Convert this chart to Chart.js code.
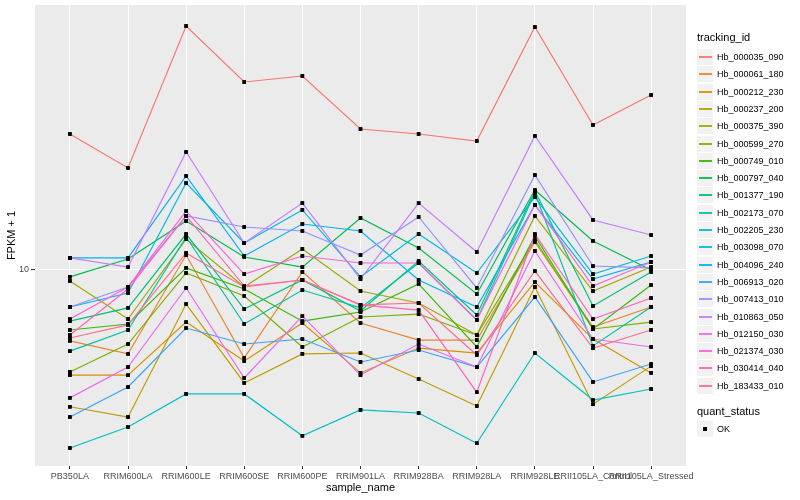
<!DOCTYPE html>
<html>
<head>
<meta charset="utf-8">
<script src="https://cdn.jsdelivr.net/npm/chart.js@4.4.1/dist/chart.umd.min.js"></script>
<style>
  html, body { margin: 0; padding: 0; background: #fff; }
  #wrap { position: relative; width: 800px; height: 500px; font-family: "Liberation Sans", Arial, sans-serif; }
  #chart { position: absolute; left: 0; top: 0; }
  .lg-title { position: absolute; left: 697px; font-size: 11px; color: #000; line-height: 13px; }
  .lg-row { position: absolute; left: 697px; height: 17px; width: 100px; }
  .lg-key { position: absolute; left: 0; top: 0; width: 16px; height: 16px; background: #F2F2F2; }
  .lg-line { position: absolute; left: 2px; top: 7px; width: 13px; height: 2px; opacity: 0.9; }
  .lg-dot { position: absolute; left: 6px; top: 6px; width: 4px; height: 4px; background: #000; }
  .lg-text { position: absolute; left: 20px; top: 2px; font-size: 9px; line-height: 12px; color: #000; white-space: nowrap; }
</style>
</head>
<body>
<div id="wrap">
  <canvas id="chart" width="800" height="500"></canvas>
  <div id="legend"></div>
</div>
<script>
const samples = ['PB350LA', 'RRIM600LA', 'RRIM600LE', 'RRIM600SE', 'RRIM600PE', 'RRIM901LA',
                 'RRIM928BA', 'RRIM928LA', 'RRIM928LE', 'RRII105LA_Control', 'RRII105LA_Stressed'];

const trackingIds = ['Hb_000035_090', 'Hb_000061_180', 'Hb_000212_230', 'Hb_000237_200', 'Hb_000375_390',
                     'Hb_000599_270', 'Hb_000749_010', 'Hb_000797_040', 'Hb_001377_190', 'Hb_002173_070',
                     'Hb_002205_230', 'Hb_003098_070', 'Hb_004096_240', 'Hb_006913_020', 'Hb_007413_010',
                     'Hb_010863_050', 'Hb_012150_030', 'Hb_021374_030', 'Hb_030414_040', 'Hb_183433_010'];

const colors = ['#F8766D', '#EA8331', '#D89000', '#C09B00', '#A3A500', '#7CAE00', '#39B600', '#00BB4E',
                '#00BF7D', '#00C1A3', '#00BFC4', '#00BAE0', '#00B0F6', '#35A2FF', '#9590FF', '#C77CFF',
                '#E76BF3', '#FA62DB', '#FF62BC', '#FF6C91'];

// FPKM + 1 per sample, one array per tracking_id
const hb_000035_090 = [21.88, 17.99, 40.74, 29.51, 30.55, 22.51, 21.88, 21.01, 40.50, 23.04, 27.38];
const hb_000061_180 = [6.65, 6.17, 10.90, 6.03, 9.89, 7.37, 6.68, 6.68, 11.75, 7.20, 8.08];
const hb_000212_230 = [5.46, 5.46, 7.41, 5.92, 7.37, 5.53, 6.38, 6.20, 9.33, 6.72, 5.53];
const hb_000237_200 = [4.55, 4.29, 8.22, 5.22, 6.17, 6.20, 5.34, 4.57, 9.07, 4.62, 5.75];
const hb_000375_390 = [9.39, 7.54, 11.95, 9.07, 11.29, 8.86, 8.27, 6.88, 13.65, 8.86, 10.17];
const hb_000599_270 = [5.56, 6.53, 9.83, 8.61, 6.42, 7.63, 7.76, 6.88, 11.89, 7.12, 7.41];
const hb_000749_010 = [7.08, 7.33, 10.12, 8.96, 7.45, 7.85, 9.23, 6.42, 12.16, 7.12, 9.17];
const hb_000797_040 = [9.61, 10.65, 13.26, 10.78, 10.17, 13.49, 11.35, 8.71, 15.85, 11.82, 10.00];
const hb_001377_190 = [7.45, 8.04, 12.30, 7.99, 9.44, 7.90, 10.53, 7.72, 15.76, 8.13, 9.89];
const hb_002173_070 = [6.27, 7.08, 12.09, 7.33, 8.91, 8.04, 10.41, 7.50, 15.58, 6.46, 8.08];
const hb_002205_230 = [3.59, 4.05, 4.90, 4.90, 3.85, 4.47, 4.39, 3.69, 6.20, 4.73, 5.04];
const hb_003098_070 = [8.08, 8.76, 16.50, 11.68, 14.13, 9.61, 12.30, 9.83, 15.22, 9.77, 10.84];
const hb_004096_240 = [10.72, 10.72, 17.18, 10.84, 13.03, 12.52, 9.44, 8.08, 14.54, 9.49, 10.47];
const hb_006913_020 = [4.29, 5.10, 7.16, 6.53, 6.72, 5.89, 6.31, 5.72, 8.56, 5.25, 5.82];
const hb_007413_010 = [8.08, 9.07, 13.65, 12.81, 12.52, 10.90, 13.57, 9.02, 17.28, 10.23, 10.12];
const hb_010863_050 = [10.72, 10.17, 19.72, 11.68, 14.70, 9.49, 14.70, 11.09, 21.63, 13.34, 12.23];
const hb_012150_030 = [4.79, 5.72, 9.02, 5.37, 7.67, 5.46, 6.53, 5.72, 11.16, 6.72, 6.42];
const hb_021374_030 = [7.54, 9.07, 14.04, 9.77, 10.84, 10.41, 10.41, 7.50, 14.54, 9.12, 10.47];
const hb_030414_040 = [6.88, 8.96, 13.65, 9.12, 9.44, 8.18, 7.94, 4.95, 12.30, 7.54, 8.51];
const hb_183433_010 = [6.76, 7.29, 11.03, 9.07, 9.44, 8.18, 8.27, 6.13, 9.94, 6.38, 7.08];

const series = [hb_000035_090, hb_000061_180, hb_000212_230, hb_000237_200, hb_000375_390,
                hb_000599_270, hb_000749_010, hb_000797_040, hb_001377_190, hb_002173_070,
                hb_002205_230, hb_003098_070, hb_004096_240, hb_006913_020, hb_007413_010,
                hb_010863_050, hb_012150_030, hb_021374_030, hb_030414_040, hb_183433_010];

const yTicks = [10];
const yMin = 3.236, yMax = 45.97;

const FONT = '"Liberation Sans", Arial, sans-serif';

// grey panel behind the plot, points redrawn over all lines
const panel = {
  id: 'panel',
  beforeDraw(chart) {
    const a = chart.chartArea, c = chart.ctx;
    c.save();
    c.fillStyle = '#EBEBEB';
    c.fillRect(a.left, a.top, a.right - a.left, a.bottom - a.top);
    c.restore();
  },
  afterDatasetsDraw(chart) {
    chart.getSortedVisibleDatasetMetas().forEach(m => m.data.forEach(p => p.draw(chart.ctx)));
  }
};

const datasets = series.map((vals, i) => ({
  label: trackingIds[i],
  data: vals.map((v, j) => ({ x: j, y: v })),
  borderColor: colors[i],
  borderWidth: 1.15,
  pointStyle: 'rect',
  pointRadius: 2.5,
  pointBorderWidth: 0,
  pointBackgroundColor: '#000',
  tension: 0,
  order: -i
}));

new Chart(document.getElementById('chart'), {
  type: 'line',
  data: { datasets },
  plugins: [panel],
  options: {
    responsive: false,
    animation: false,
    events: [],
    layout: { padding: { left: 0, right: 114, top: 5, bottom: 0 } },
    plugins: { legend: { display: false }, tooltip: { enabled: false } },
    scales: {
      x: {
        type: 'linear',
        min: -0.6,
        max: 10.6,
        afterBuildTicks: s => { s.ticks = samples.map((_, i) => ({ value: i })); },
        afterFit: s => { s.height = 34; s.paddingLeft = 0; s.paddingRight = 0; },
        grid: { color: '#FFFFFF', lineWidth: 1, drawTicks: true, tickLength: 3, tickColor: '#333333' },
        border: { display: false },
        ticks: {
          autoSkip: false, maxRotation: 0, minRotation: 0, padding: 2,
          color: '#4D4D4D', font: { family: FONT, size: 9 },
          callback: v => samples[v]
        },
        title: { display: true, text: 'sample_name', color: '#000', font: { family: FONT, size: 11 }, padding: { top: 0, bottom: 5 } }
      },
      y: {
        type: 'logarithmic',
        min: yMin,
        max: yMax,
        afterBuildTicks: s => { s.ticks = yTicks.map(v => ({ value: v })); },
        afterFit: s => { s.width = 35; s.paddingTop = 0; s.paddingBottom = 0; },
        grid: { color: '#FFFFFF', lineWidth: 1.1, drawTicks: true, tickLength: 4, tickColor: '#333333' },
        border: { display: false },
        ticks: {
          padding: 2, color: '#4D4D4D', font: { family: FONT, size: 9 },
          callback: v => String(v)
        },
        title: { display: true, text: 'FPKM + 1', color: '#000', font: { family: FONT, size: 11 }, padding: { top: 5, bottom: 0 } }
      }
    }
  }
});

// ggplot-style legend on the right
const lg = document.getElementById('legend');
let html = '<div class="lg-title" style="top:31px">tracking_id</div>';
trackingIds.forEach((id, i) => {
  const top = Math.round(49 + i * 17.3);
  html += '<div class="lg-row" style="top:' + top + 'px"><div class="lg-key"><div class="lg-line" style="background:' +
          colors[i] + '"></div></div><div class="lg-text">' + id + '</div></div>';
});
html += '<div class="lg-title" style="top:405px">quant_status</div>';
html += '<div class="lg-row" style="top:421px"><div class="lg-key"><div class="lg-dot"></div></div><div class="lg-text">OK</div></div>';
lg.innerHTML = html;
</script>
</body>
</html>
